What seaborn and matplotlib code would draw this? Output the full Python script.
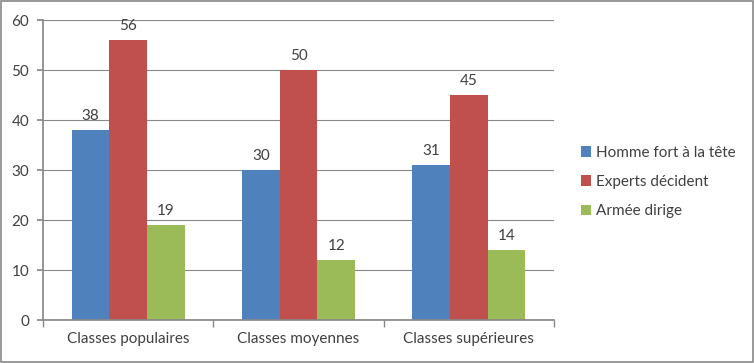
import matplotlib
matplotlib.use("Agg")
import matplotlib.pyplot as plt
import seaborn as sns
import pandas as pd
from matplotlib.patches import Rectangle

categories = ["Classes populaires", "Classes moyennes", "Classes supérieures"]
series = ["Homme fort à la tête", "Experts décident", "Armée dirige"]
homme_fort = [38, 30, 31]
experts = [56, 50, 45]
armee = [19, 12, 14]
colors = ["#4F81BD", "#C0504D", "#9BBB59"]

rows = []
for s, vals in zip(series, [homme_fort, experts, armee]):
    for c, v in zip(categories, vals):
        rows.append({"cat": c, "serie": s, "val": v})
df = pd.DataFrame(rows)

sns.set_theme(style="white")
plt.rcParams["font.family"] = ["Lato", "DejaVu Sans"]

fig = plt.figure(figsize=(7.54, 3.63), dpi=100)
ax = fig.add_axes([43/754, 1-320/363, (554-43)/754, 300/363])

sns.barplot(data=df, x="cat", y="val", hue="serie", palette=colors,
            width=0.665, gap=0, saturation=1, ax=ax, legend=True,
            linewidth=0, edgecolor="none")

for cont in ax.containers:
    ax.bar_label(cont, fmt="%d", padding=5, fontsize=11, color="#404040")

ax.set_ylim(0, 60)
ax.set_yticks(range(0, 61, 10))
ax.set_xlim(-0.5, 2.5)
ax.set_xlabel("")
ax.set_ylabel("")
ax.yaxis.grid(True, color="#888888", linewidth=0.8)
ax.set_axisbelow(True)
for side in ["top", "right"]:
    ax.spines[side].set_visible(False)
ax.spines["left"].set_color("#888888")
ax.spines["bottom"].set_color("#888888")
ax.tick_params(axis="y", labelsize=11, labelcolor="#404040", length=4,
               color="#888888", left=True, pad=6)
ax.tick_params(axis="x", labelsize=11, labelcolor="#404040", length=0, pad=9)
ax.set_xticks([-0.5, 0.5, 1.5, 2.5], minor=True)
ax.tick_params(axis="x", which="minor", length=5, color="#888888", bottom=True)

leg = ax.legend(loc="center left", bbox_to_anchor=(1.025, 0.46), frameon=False,
                fontsize=11, handlelength=0.7, handleheight=0.7,
                handletextpad=0.3, labelspacing=1.0, labelcolor="#404040")

fig.patches.append(Rectangle((1/754, 1/363), 752/754, 361/363, transform=fig.transFigure,
                             fill=False, edgecolor="#888888", linewidth=1.2))

fig.savefig("out.png", dpi=100)
